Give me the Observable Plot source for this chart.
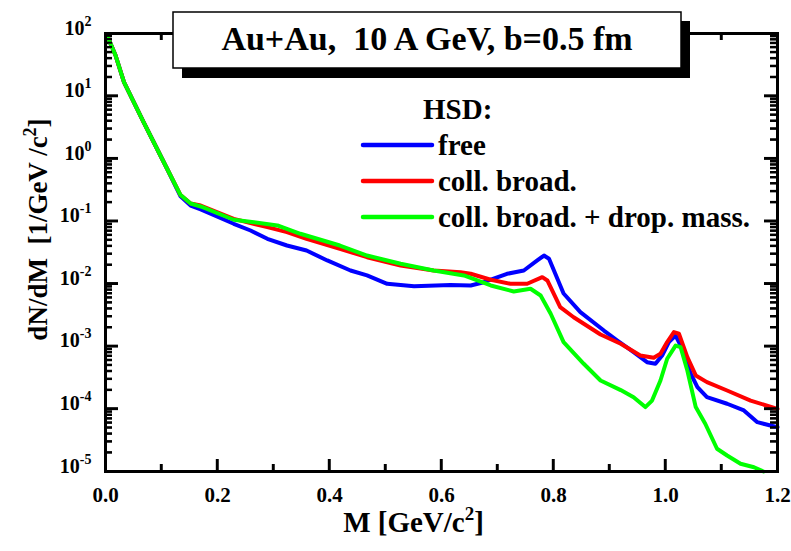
<!DOCTYPE html>
<html><head><meta charset="utf-8">
<script src="https://cdn.jsdelivr.net/npm/d3@7"></script>
<script src="https://cdn.jsdelivr.net/npm/@observablehq/plot@0.6"></script>
<style>
body{margin:0;background:#fff;}
#chart{position:relative;width:791px;height:551px;}
#chart svg{position:absolute;left:0;top:0;}
</style></head><body><div id="chart"></div>
<script>
// ---- data ----
const massFree = [0.002,0.018,0.033,0.068,0.092,0.110,0.134,0.152,0.170,0.229,0.259,0.289,0.324,0.359,0.396,0.4375,0.467,0.503,0.551,0.616,0.652,0.6755,0.717,0.747,0.771,0.783,0.792,0.818,0.848,0.890,0.914,0.943,0.967,0.982,0.994,1.006,1.018,1.030,1.045,1.057,1.074,1.110,1.140,1.164,1.200];
const dndmFree = [97,44.5,16.7,3.82,1.44,0.69,0.25,0.178,0.155,0.091,0.0711,0.0524,0.0409,0.034,0.0236,0.0163,0.0136,0.0100,0.00916,0.00957,0.0094,0.0106,0.01445,0.0163,0.0236,0.0283,0.0251,0.0070,0.00352,0.00179,0.00124,0.00081,0.000558,0.000527,0.000714,0.00117,0.00149,0.000914,0.000365,0.000223,0.000154,0.000121,9.47e-5,6.15e-5,5.1e-5];

const massBroad = [0.002,0.018,0.033,0.068,0.092,0.110,0.134,0.152,0.170,0.229,0.289,0.324,0.359,0.4185,0.467,0.527,0.586,0.634,0.652,0.688,0.723,0.753,0.780,0.789,0.812,0.836,0.884,0.920,0.955,0.979,0.991,1.003,1.015,1.024,1.039,1.054,1.074,1.110,1.152,1.200];
const dndmBroad = [97,44.5,16.7,3.82,1.44,0.69,0.262,0.192,0.178,0.109,0.0804,0.0668,0.0524,0.0363,0.0266,0.0196,0.0163,0.01535,0.01445,0.0116,0.0100,0.0100,0.01277,0.0113,0.00423,0.00292,0.00155,0.0011,0.000714,0.000657,0.000762,0.00117,0.00169,0.00159,0.000672,0.000343,0.000268,0.000197,0.000136,0.0001];

const massDrop = [0.002,0.018,0.033,0.068,0.092,0.110,0.134,0.152,0.170,0.229,0.265,0.307,0.348,0.4185,0.467,0.527,0.586,0.640,0.688,0.729,0.759,0.777,0.795,0.818,0.854,0.884,0.920,0.943,0.964,0.976,0.991,1.003,1.018,1.027,1.039,1.054,1.071,1.092,1.110,1.134,1.158,1.175];
const dndmDrop = [97,44.5,16.7,3.82,1.44,0.69,0.262,0.192,0.172,0.1055,0.0965,0.0855,0.063,0.0409,0.0283,0.0209,0.0163,0.0136,0.0094,0.00754,0.00832,0.0065,0.00332,0.00117,0.000527,0.000285,0.0002,0.000154,0.000107,0.000136,0.000285,0.000634,0.00103,0.00097,0.000412,0.000107,5.8e-5,2.31e-5,1.8e-5,1.33e-5,1.17e-5,1.0e-5];

const seriesNames = ["free", "coll. broad.", "coll. broad. + drop. mass."];
const seriesColors = ["#0000ff", "#ff0000", "#00ff00"];

const xTicks = [0, 0.2, 0.4, 0.6, 0.8, 1.0, 1.2];
const xTickLabels = ["0.0", "0.2", "0.4", "0.6", "0.8", "1.0", "1.2"];
const xMinorTicks = [0.1, 0.3, 0.5, 0.7, 0.9, 1.1];
const yDecades = [1e-5, 1e-4, 1e-3, 1e-2, 1e-1, 1e0, 1e1, 1e2];
const yTickLabels = ["10^-5", "10^-4", "10^-3", "10^-2", "10^-1", "10^0", "10^1", "10^2"];

const titleText = "Au+Au,  10 A GeV, b=0.5 fm";
const legendTitle = "HSD:";
const xLabel = "M [GeV/c^2|]";
const yLabel = "dN/dM  [1/GeV /c^2|]";

// ---- layout ----
const W = 791, H = 551, mt = 33, mr = 14, mb = 80, ml = 105;
const fw = W - ml - mr, fh = H - mt - mb;
const FONT = "'Liberation Serif', 'Times New Roman', Times, serif";

const rows = [];
[[massFree, dndmFree], [massBroad, dndmBroad], [massDrop, dndmDrop]].forEach(([ms, vs], k) => {
  ms.forEach((m, i) => rows.push({M: m, v: vs[i], s: seriesNames[k]}));
});

const yMinor = [];
yDecades.slice(0, -1).forEach(d => { for (let k = 2; k <= 9; k++) yMinor.push(k * d); });
const xMajorInner = xTicks.slice(1, -1);
const yDecInner = yDecades.slice(1, -1);

const plot = Plot.plot({
  width: W, height: H,
  marginTop: mt, marginRight: mr, marginBottom: mb, marginLeft: ml,
  x: {domain: [0, 1.2], axis: null},
  y: {type: "log", domain: [1e-5, 100], axis: null},
  color: {domain: seriesNames, range: seriesColors},
  style: {fontFamily: FONT, fontWeight: "bold", background: "white", color: "black"},
  marks: [
    Plot.tickX(xMajorInner, {x: d => d, insetTop: fh - 12, stroke: "black", strokeWidth: 2.4}),
    Plot.tickX(xMajorInner, {x: d => d, insetBottom: fh - 12, stroke: "black", strokeWidth: 2.4}),
    Plot.tickX(xMinorTicks, {x: d => d, insetTop: fh - 7, stroke: "black", strokeWidth: 2.4}),
    Plot.tickX(xMinorTicks, {x: d => d, insetBottom: fh - 7, stroke: "black", strokeWidth: 2.4}),
    Plot.tickY(yDecInner, {y: d => d, insetRight: fw - 13, stroke: "black", strokeWidth: 2.4}),
    Plot.tickY(yDecInner, {y: d => d, insetLeft: fw - 13, stroke: "black", strokeWidth: 2.4}),
    Plot.tickY(yMinor, {y: d => d, insetRight: fw - 7, stroke: "black", strokeWidth: 2}),
    Plot.tickY(yMinor, {y: d => d, insetLeft: fw - 7, stroke: "black", strokeWidth: 2}),
    Plot.line(rows, {x: "M", y: "v", z: "s", stroke: "s", strokeWidth: 4}),
    Plot.frame({stroke: "black", strokeWidth: 3}),
    Plot.text(xTicks, {x: d => d, text: (d, i) => xTickLabels[i], frameAnchor: "bottom", textAnchor: "middle", lineAnchor: "bottom", dy: 30, fontSize: 21, fontWeight: "bold"}),
    Plot.text(yDecades, {y: d => d, text: (d, i) => yTickLabels[i], frameAnchor: "left", textAnchor: "end", lineAnchor: "bottom", dx: -14, dy: 1, fontSize: 20, fontWeight: "bold"}),
    Plot.text([xLabel], {text: d => d, frameAnchor: "bottom", textAnchor: "middle", lineAnchor: "bottom", dx: -28, dy: 60, fontSize: 29, fontWeight: "bold"}),
    Plot.text([yLabel], {text: d => d, frameAnchor: "left", textAnchor: "middle", lineAnchor: "bottom", rotate: -90, dx: -59, dy: -23, fontSize: 27, fontWeight: "bold"})
  ]
});

// superscripts: "base^sup|rest"
function supify(el, supSize, rise) {
  const s = el.textContent;
  const parts = s.split(/\^([^|]*)\|?/);
  el.textContent = "";
  let raised = false;
  parts.forEach((p, i) => {
    if (!p) return;
    const t = document.createElementNS("http://www.w3.org/2000/svg", "tspan");
    t.textContent = p;
    if (i % 2 === 1) { t.setAttribute("dy", -rise); t.setAttribute("font-size", supSize); raised = true; }
    else if (raised) { t.setAttribute("dy", rise); raised = false; }
    el.appendChild(t);
  });
}
const svg = d3.select(plot);
svg.selectAll("text").each(function() {
  const s = this.textContent;
  if (!s.includes("^")) return;
  if (s.startsWith("10^")) supify(this, 14, 9);
  else if (s.startsWith("M ")) supify(this, 19, 12);
  else supify(this, 18, 11);
});

// title box and legend (annotations)
const tg = svg.append("g");
tg.append("rect").attr("x", 182).attr("y", 21).attr("width", 508).attr("height", 57).attr("fill", "black");
tg.append("rect").attr("x", 173).attr("y", 12).attr("width", 508).attr("height", 56).attr("fill", "white").attr("stroke", "black").attr("stroke-width", 1.5);
tg.append("text").attr("x", 427).attr("y", 50).attr("text-anchor", "middle").attr("font-size", 34).attr("font-weight", "bold").attr("font-family", FONT).text(titleText);

const lg = svg.append("g").attr("font-family", FONT).attr("font-weight", "bold").attr("font-size", 29).attr("text-anchor", "start");
lg.append("text").attr("x", 423).attr("y", 119).text(legendTitle);
const rowY = [145, 181, 217];
seriesNames.forEach((n, i) => {
  lg.append("line").attr("x1", 363).attr("x2", 432).attr("y1", rowY[i]).attr("y2", rowY[i])
    .attr("stroke", seriesColors[i]).attr("stroke-width", 4.5).attr("stroke-linecap", "round");
  lg.append("text").attr("x", 438).attr("y", rowY[i] + 10).text(n);
});
svg.selectAll("text").style("white-space", "pre");

document.getElementById("chart").appendChild(plot);

// overlay SVG with inward ticks, positioned with the plot's own scales
const sx = plot.scale("x"), sy = plot.scale("y");
const X0 = sx.apply(0), X1 = sx.apply(1.2), Y0 = sy.apply(1e-5), Y1 = sy.apply(100);
const ov = d3.select("#chart").append("svg").attr("width", W).attr("height", H)
  .attr("viewBox", `0 0 ${W} ${H}`).style("pointer-events", "none");
function seg(x1, y1, x2, y2, w) {
  ov.append("path").attr("d", `M${x1},${y1}L${x2},${y2}`).attr("stroke", "#000").attr("stroke-width", w).attr("fill", "none");
}
xMajorInner.forEach(v => { const p = sx.apply(v); if (p < 173 || p > 690) seg(p, Y1, p, Y1 + 12, 2.4); seg(p, Y0, p, Y0 - 12, 2.4); });
xMinorTicks.forEach(v => { const p = sx.apply(v); if (p < 173 || p > 690) seg(p, Y1, p, Y1 + 7, 2.4); seg(p, Y0, p, Y0 - 7, 2.4); });
yDecInner.forEach(v => { const p = sy.apply(v); seg(X0, p, X0 + 13, p, 2.4); seg(X1, p, X1 - 13, p, 2.4); });
yMinor.forEach(v => { const p = sy.apply(v); seg(X0, p, X0 + 7, p, 2); seg(X1, p, X1 - 7, p, 2); });
</script></body></html>
